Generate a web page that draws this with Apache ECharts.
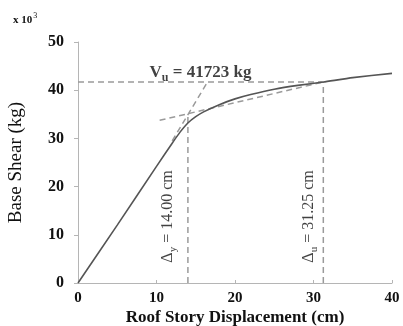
<!DOCTYPE html>
<html><head><meta charset="utf-8">
<script src="https://cdn.jsdelivr.net/npm/echarts@6/dist/echarts.min.js"></script>
<style>html,body{margin:0;padding:0;background:#fff}#c{width:403px;height:326px}</style>
</head><body><div id="c"></div>
<script>
// Pushover curve (displacement cm, base shear x10^3 kg)
var dispX = [0, 5, 10, 12, 13, 14, 15, 16, 18, 20, 22, 25, 28, 31.25, 35, 40];
var shearY = [0, 12, 24.2, 29, 31.3, 33.2, 34.5, 35.5, 37, 38.2, 39.1, 40.2, 41, 41.7, 42.6, 43.5];
// Idealisation values
var Vu = 41.723;
var dY = 14.00;
var dU = 31.25;
var tangent1 = [[12, 29.5], [16.5, 41.7]];
var tangent2 = [[10.4, 33.75], [31.25, 41.7]];
var yIntersect = 35.1;
var xTicks = [0, 10, 20, 30, 40];
var yTicks = [0, 10, 20, 30, 40, 50];

var serif = '"Liberation Serif", "Times New Roman", serif';
var dash = {color: '#9a9a9a', width: 1.5, type: [6, 4]};
function seg(pts){ return {type:'line', data: pts, symbol:'none', lineStyle: dash, silent:true, z:1}; }
var curve = dispX.map(function(x,i){return [x, shearY[i]];});
function rotLabel(sub, rest){
  return {show:true, position:'inside', rotate:90,
    formatter:'{v|\u0394}{s|' + sub + '}{v|' + rest + '}',
    rich:{v:{fontFamily:serif, fontSize:16, color:'#111', lineHeight:18, verticalAlign:'bottom'},
          s:{fontFamily:serif, fontSize:11, color:'#111', lineHeight:18, verticalAlign:'bottom', padding:[0,0,-3,0]}}};
}

var chart = echarts.init(document.getElementById('c'));
chart.setOption({
  animation: false,
  grid: {left: 78, right: 11, top: 42, bottom: 43, containLabel: false, outerBoundsMode: 'none'},
  xAxis: {type:'value', min:0, max:40, interval:10,
    name: 'Roof Story Displacement (cm)', nameLocation:'middle', nameGap: 26, nameMoveOverlap: false,
    nameTextStyle: {fontFamily: serif, fontWeight:'bold', fontSize:17, color:'#111'},
    axisLine: {lineStyle:{color:'#b5b5b5', width:1}},
    axisTick: {show:true, inside:true, length:3, lineStyle:{color:'#b5b5b5'}},
    splitLine: {show:false},
    axisLabel: {fontFamily: serif, fontWeight:'bold', fontSize:15, color:'#111', margin:8,
      formatter: function(v){ return xTicks.indexOf(v) >= 0 ? String(v) : ''; }}
  },
  yAxis: {type:'value', min:0, max:50, interval:10,
    name: 'Base Shear (kg)', nameLocation:'middle', nameGap: 52, nameMoveOverlap: false,
    nameTextStyle: {fontFamily: serif, fontSize:19, color:'#111'},
    axisLine: {show:true, lineStyle:{color:'#b5b5b5', width:1}},
    axisTick: {show:true, length:4, lineStyle:{color:'#b5b5b5'}},
    splitLine: {show:false},
    axisLabel: {fontFamily: serif, fontWeight:'bold', fontSize:16, color:'#111', margin:14,
      formatter: function(v){ return yTicks.indexOf(v) >= 0 ? String(v) : ''; }}
  },
  graphic: [{type:'text', left: 13, top: 12, style: {
      text: '{a|x 10}{b|3}', rich: {a:{fontFamily: serif, fontWeight:'bold', fontSize:11, fill:'#111', verticalAlign:'bottom'},
        b:{fontFamily: serif, fontSize:8, fill:'#111', verticalAlign:'top', padding:[0,0,6,1]}}}}],
  series: [
    seg([[0, Vu], [dU, Vu]]),
    seg([[dY, 0], [dY, yIntersect]]),
    seg([[dU, 0], [dU, Vu]]),
    seg(tangent1),
    seg(tangent2),
    {type:'line', data: curve, symbol:'none', smooth:0.2, lineStyle:{color:'#555', width:1.6}, z:3},
    {type:'scatter', symbolSize:0, silent:true, z:5,
      data: [
        {value:[15.6, 43.9], label:{show:true, position:'inside',
          formatter:'{v|V}{s|u}{v| = 41723 kg}',
          rich:{v:{fontFamily:serif, fontWeight:'bold', fontSize:17, color:'#111', lineHeight:19, verticalAlign:'bottom'},
                s:{fontFamily:serif, fontWeight:'bold', fontSize:12, color:'#111', lineHeight:19, verticalAlign:'bottom', padding:[0,0,-3,0]}}}},
        {value:[11.3, 13.8], label: rotLabel('y', ' = 14.00 cm')},
        {value:[29.3, 13.8], label: rotLabel('u', ' = 31.25 cm')}
      ]}
  ]
});
</script></body></html>
